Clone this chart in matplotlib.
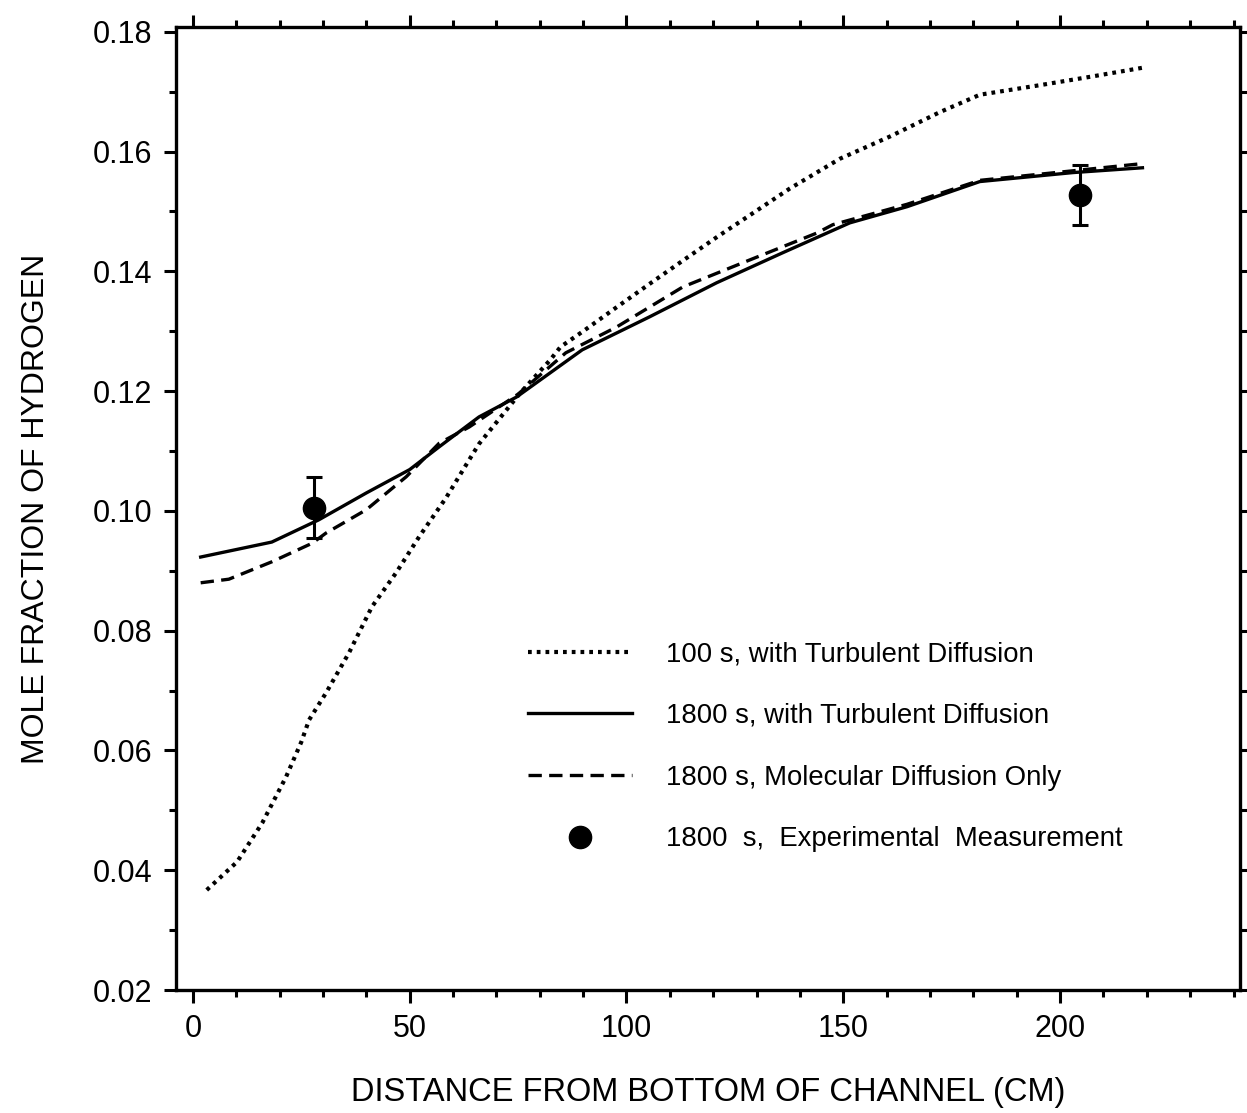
import matplotlib
matplotlib.use("Agg")
import matplotlib.pyplot as plt
from matplotlib.ticker import MultipleLocator, FormatStrFormatter

plt.rcParams['font.family'] = ['Liberation Sans', 'DejaVu Sans']

# 100 s, with turbulent diffusion (dotted)
x_100 = [3.2, 10.2, 16, 21.5, 25, 26.8, 30.7, 36, 41.3, 46.9, 52.2, 58.4, 63.7, 66, 75.5, 82.4,
         84.8, 90, 97.7, 105.5, 113, 121, 126, 137.6, 149.2, 160.7, 172.3, 181.5, 195.4, 207, 219]
y_100 = [0.0367, 0.0414, 0.0479, 0.0556, 0.0614, 0.0651, 0.0696, 0.0763, 0.084, 0.0897, 0.0957,
         0.1022, 0.1085, 0.1112, 0.1197, 0.1252, 0.1274, 0.1300, 0.1340, 0.1380, 0.1418, 0.1458,
         0.1482, 0.1538, 0.1588, 0.1625, 0.1666, 0.1695, 0.1711, 0.1725, 0.1740]

# 1800 s, with turbulent diffusion (solid)
x_t1800 = [1.8, 18.2, 29, 40, 50, 56.8, 59, 66, 74.6, 89.8, 105.3, 120.8, 136, 151.5, 164.7, 181.5, 203, 219]
y_t1800 = [0.0923, 0.0948, 0.0985, 0.1030, 0.1069, 0.1107, 0.1119, 0.1157, 0.1190, 0.1269, 0.1324,
           0.1381, 0.1431, 0.1481, 0.1508, 0.1550, 0.1565, 0.1573]

# 1800 s, molecular diffusion only (dashed)
x_m1800 = [1.8, 8.3, 18.2, 27.5, 30.7, 40, 49.2, 56.8, 63.7, 75, 86, 97.7, 113, 128.4, 143.9, 147.6,
           164.7, 181.5, 203, 219]
y_m1800 = [0.0880, 0.0886, 0.0915, 0.0946, 0.0963, 0.1002, 0.1057, 0.1113, 0.1140, 0.1195, 0.1264,
           0.1307, 0.1374, 0.1419, 0.1464, 0.1478, 0.1512, 0.1552, 0.1568, 0.1580]

# 1800 s, experimental measurement
x_exp = [28, 204.6]
y_exp = [0.1005, 0.1528]
err_exp = [0.0051, 0.0050]

labels = ["100 s, with Turbulent Diffusion",
          "1800 s, with Turbulent Diffusion",
          "1800 s, Molecular Diffusion Only",
          "1800  s,  Experimental  Measurement"]

fig = plt.figure(figsize=(12.47, 11.13), dpi=100)
ax = fig.add_axes([0.1411, 0.1105, 0.8533, 0.8652])

ax.plot(x_100, y_100, color='black', lw=3.0, linestyle=(0, (0.9, 1.2)), label=labels[0])
ax.plot(x_t1800, y_t1800, color='black', lw=2.4, linestyle='-', label=labels[1])
ax.plot(x_m1800, y_m1800, color='black', lw=2.4, linestyle=(0, (4, 2.2)), label=labels[2])
ax.errorbar(x_exp, y_exp, yerr=err_exp, fmt='none', ecolor='black', elinewidth=2.2, capsize=6, capthick=2.2)
ax.plot(x_exp, y_exp, 'o', color='black', markersize=16, linestyle='none', label=labels[3])

ax.set_xlim(-3.9, 241.5)
ax.set_ylim(0.02, 0.1808)
ax.xaxis.set_major_locator(MultipleLocator(50))
ax.xaxis.set_minor_locator(MultipleLocator(10))
ax.yaxis.set_major_locator(MultipleLocator(0.02))
ax.yaxis.set_minor_locator(MultipleLocator(0.01))
ax.yaxis.set_major_formatter(FormatStrFormatter('%.2f'))

ax.tick_params(which='both', direction='out', top=True, right=True, width=2.2, colors='black')
ax.tick_params(axis='y', labelsize=22)
ax.tick_params(axis='x', labelsize=22)
ax.tick_params(which='major', length=9, pad=8)
ax.tick_params(which='minor', length=5)
for s in ax.spines.values():
    s.set_linewidth(2.4)

ax.set_xlabel("DISTANCE FROM BOTTOM OF CHANNEL (CM)", fontsize=23.5, labelpad=24)
ax.set_ylabel("MOLE FRACTION OF HYDROGEN", fontsize=23, labelpad=30)

leg = ax.legend(loc='upper left', bbox_to_anchor=(0.308, 0.388), frameon=False,
                fontsize=19.8, handlelength=3.75, handletextpad=1.25, labelspacing=1.3)

fig.savefig("out.png", dpi=100)
